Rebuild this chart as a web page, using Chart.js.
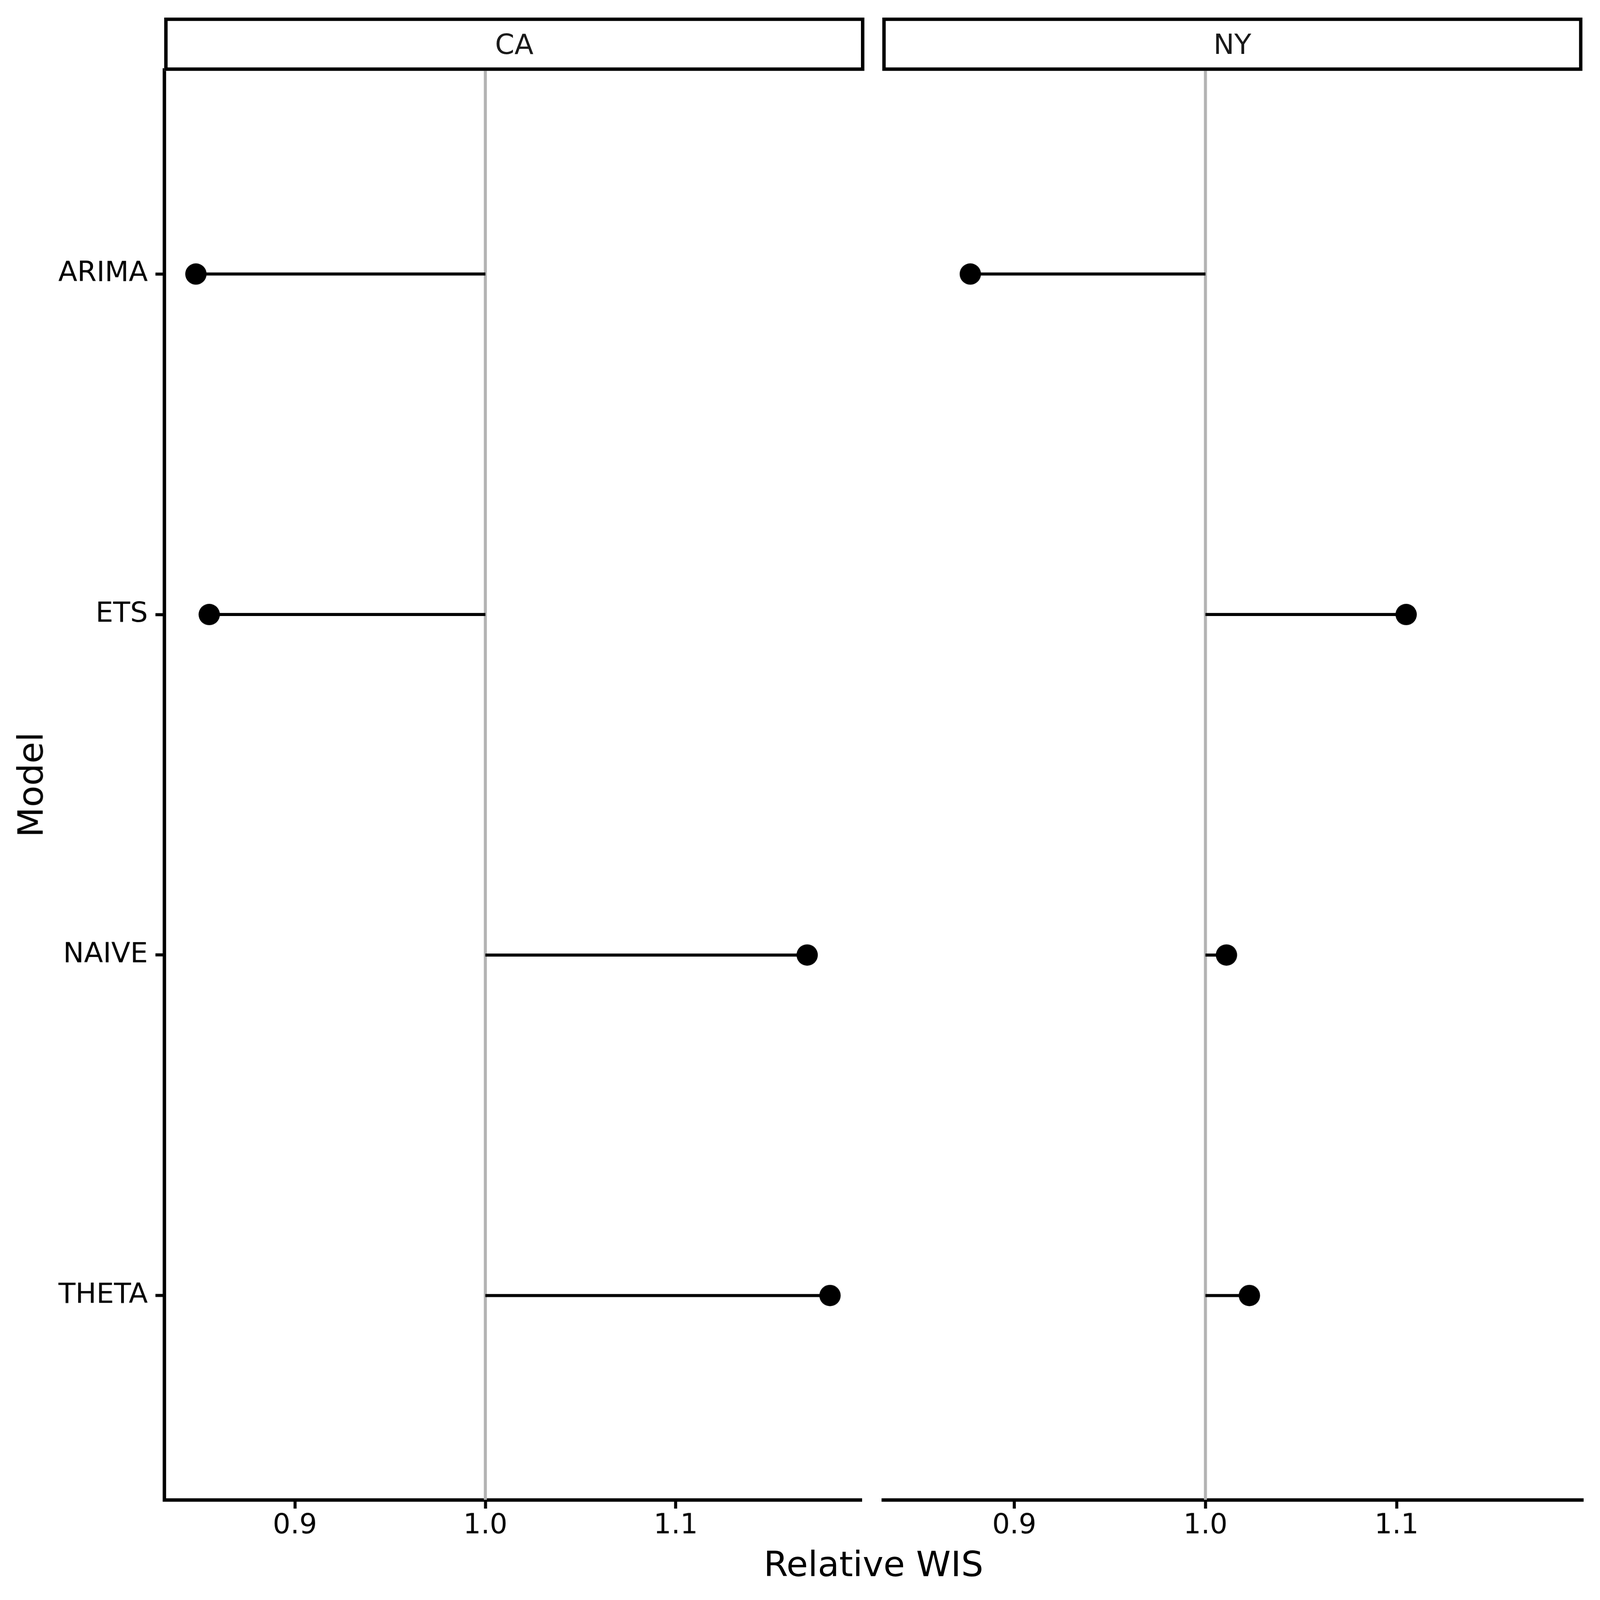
<!DOCTYPE html>
<html>
<head>
<meta charset="utf-8">
<script src="https://cdn.jsdelivr.net/npm/chart.js@4.4.1/dist/chart.umd.min.js"></script>
<style>
    html, body { margin: 0; padding: 0; background: #fff; overflow: hidden; }
    body { font-family: "DejaVu Sans", sans-serif; }
    #stage { position: absolute; left: 0; top: 0; width: 4200px; height: 4200px; transform-origin: 0 0; background: #fff; }
    canvas { position: absolute; top: 0; }
    .strip { position: absolute; top: 46px; height: 140px; width: 1838px; box-sizing: border-box; border: 9px solid #000; background: #fff;
             color: #1a1a1a; font-size: 73px; display: flex; align-items: center; justify-content: center; z-index: 2; }
    .title { position: absolute; font-size: 92px; line-height: 1; color: #000; white-space: nowrap; }
</style>
</head>
<body>
<div id="stage">
    <canvas id="chart-ca" width="2290" height="4100" style="left:0px"></canvas>
    <canvas id="chart-ny" width="1910" height="4100" style="left:2290px"></canvas>
    <div class="strip" id="strip-ca" style="left:431px"></div>
    <div class="strip" id="strip-ny" style="left:2316px"></div>
    <div class="title" id="x-title" style="left:2293px; top:4060px; transform:translateX(-50%)"></div>
    <div class="title" id="y-title" style="left:81px; top:2060px; transform:translate(-50%,-50%) rotate(-90deg)"></div>
</div>

<script>
// Chart data
const models = ['ARIMA', 'ETS', 'NAIVE', 'THETA'];
const regions = ['CA', 'NY'];
const caWis = [0.848, 0.855, 1.169, 1.181];
const nyWis = [0.877, 1.105, 1.011, 1.023];
const xTicks = [0.9, 1.0, 1.1];
const refValue = 1.0;
const xLabel = 'Relative WIS';
const yLabel = 'Model';

// fit the 4200px layout into whatever viewport we actually get
const stage = document.getElementById('stage');
const fit = Math.min(window.innerWidth, window.innerHeight) / 4200;
if (fit > 0 && Math.abs(fit - 1) > 0.001) {
    stage.style.transform = 'scale(' + fit + ')';
}

document.getElementById('strip-ca').textContent = regions[0];
document.getElementById('strip-ny').textContent = regions[1];
document.getElementById('x-title').textContent = xLabel;
document.getElementById('y-title').textContent = yLabel;

// shared x range (ggplot 5% expansion around data + reference line)
const allVals = caWis.concat(nyWis, [refValue]);
const lo = Math.min(...allVals), hi = Math.max(...allVals);
const xMin = lo - (hi - lo) * 0.05;
const xMax = hi + (hi - lo) * 0.05;

const tickFont = { family: 'DejaVu Sans', size: 73 };

function makeFacet(canvasId, values, showY, padLeft, padRight) {
    const datasets = [];

    // grey reference line at 1.0
    datasets.push({
        data: [{ x: refValue, y: 0.4 }, { x: refValue, y: models.length + 0.6 }],
        showLine: true,
        borderColor: '#b3b3b3',
        borderWidth: 8,
        pointRadius: 0,
        order: 3
    });

    // lollipop sticks
    models.forEach((m, i) => {
        datasets.push({
            data: [{ x: refValue, y: i + 1 }, { x: values[i], y: i + 1 }],
            showLine: true,
            borderColor: '#000',
            borderWidth: 8,
            pointRadius: 0,
            order: 2
        });
    });

    // dots
    datasets.push({
        data: models.map((m, i) => ({ x: values[i], y: i + 1 })),
        backgroundColor: '#000',
        borderWidth: 0,
        pointRadius: 28,
        clip: false,
        order: 1
    });

    const axisGrid = { drawOnChartArea: false, drawTicks: true, tickLength: 23, tickWidth: 8, color: '#000' };
    const axisBorder = { display: true, color: '#000', width: 9 };

    return new Chart(document.getElementById(canvasId), {
        type: 'scatter',
        data: { datasets: datasets },
        options: {
            responsive: false,
            animation: false,
            devicePixelRatio: 1,
            layout: { padding: { top: 183, left: padLeft, right: padRight, bottom: 0 } },
            plugins: { legend: { display: false }, tooltip: { enabled: false } },
            scales: {
                x: {
                    type: 'linear',
                    min: xMin,
                    max: xMax,
                    afterBuildTicks: axis => { axis.ticks = xTicks.map(v => ({ value: v })); },
                    afterFit: axis => { axis.height = 163; },
                    ticks: {
                        callback: (v, i) => xTicks[i].toFixed(1),
                        color: '#000',
                        font: tickFont,
                        padding: 2,
                        autoSkip: false,
                        maxRotation: 0
                    },
                    grid: axisGrid,
                    border: axisBorder
                },
                y: {
                    type: 'linear',
                    display: showY,
                    reverse: true,
                    min: 0.4,
                    max: models.length + 0.6,
                    afterBuildTicks: axis => { axis.ticks = models.map((m, i) => ({ value: i + 1 })); },
                    afterFit: axis => { axis.width = showY ? 431 : 0; },
                    ticks: {
                        callback: (v, i) => models[i],
                        color: '#000',
                        font: tickFont,
                        padding: 20,
                        autoSkip: false
                    },
                    grid: axisGrid,
                    border: axisBorder
                }
            }
        }
    });
}

makeFacet('chart-ca', caWis, true, 0, 19);
makeFacet('chart-ny', nyWis, false, 22, 44);
</script>
</body>
</html>
